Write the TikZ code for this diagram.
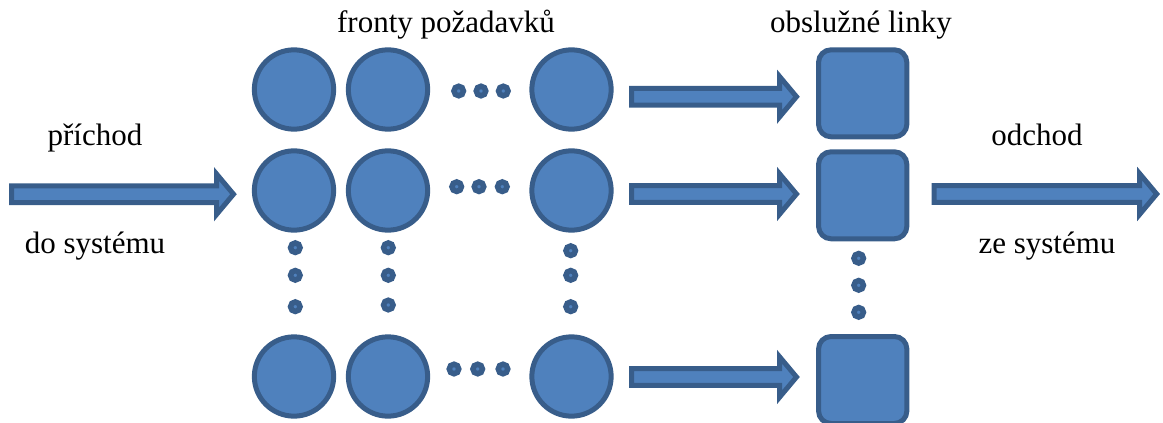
\documentclass[tikz,border=0pt]{standalone}
\usepackage{fontspec}
\setmainfont{Liberation Serif}
\usetikzlibrary{calc}
\definecolor{boxfill}{HTML}{4F81BD}
\definecolor{boxline}{HTML}{385D8A}
\tikzset{
  queue/.style={circle, draw=boxline, fill=boxfill, line width=5pt,
    minimum size=79.3pt, inner sep=0pt},
  server/.style={rectangle, rounded corners=12.5pt, draw=boxline, fill=boxfill,
    line width=5pt, minimum width=88.3pt, minimum height=87pt, inner sep=0pt},
  ellip/.style={circle, draw=boxline, fill=boxfill, line width=5.5pt,
    minimum size=9.5pt, inner sep=0pt},
  fatarrow/.style={draw=boxline, fill=boxfill, line width=5pt, line join=miter, miter limit=10},
  txt/.style={font=\fontsize{31}{37}\selectfont, anchor=base, inner sep=0pt},
}
% block arrow from coordinate #1 (tail) to coordinate #2 (tip)
\newcommand\blockarrow[2]{%
  \path[fatarrow] ($(#1)+(0,-8.4)$) -- ($(#2)+(-17,-8.4)$) -- ($(#2)+(-17,-20.3)$)
    -- (#2) -- ($(#2)+(-17,20.3)$) -- ($(#2)+(-17,8.4)$) -- ($(#1)+(0,8.4)$) -- cycle;}
\begin{document}
\begin{tikzpicture}[x=1pt,y=-1pt]
\useasboundingbox (0,0) rectangle (1163,423);

% queues
\node[queue] (q11) at (294,89.5) {};
\node[queue] (q12) at (388,89.5) {};
\node[queue] (q13) at (571.5,89.5) {};
\node[queue] (q21) at (294,190.5) {};
\node[queue] (q22) at (388,190.5) {};
\node[queue] (q23) at (571.5,190.5) {};
\node[queue] (q31) at (294,376.5) {};
\node[queue] (q32) at (388,376.5) {};
\node[queue] (q33) at (571.5,376.5) {};

% horizontal ellipses
\foreach \r/\y/\a/\b/\c in {1/91/458.7/481/503.3, 2/186.7/456.7/479/502.3, 3/369/454/477.7/503}{
  \node[ellip] (h\r a) at (\a,\y) {};
  \node[ellip] (h\r b) at (\b,\y) {};
  \node[ellip] (h\r c) at (\c,\y) {};
}
% vertical ellipses
\foreach \k/\x/\a/\b/\c in {1/295.3/247.7/275.3/306.7, 2/388.3/247.7/275.3/305, 3/570.7/250.7/275.3/306.7, 4/858.7/258.3/285.3/312.3}{
  \node[ellip] (v\k a) at (\x,\a) {};
  \node[ellip] (v\k b) at (\x,\b) {};
  \node[ellip] (v\k c) at (\x,\c) {};
}

% service lines
\node[server] (s1) at (862.7,93.3) {};
\node[server] (s2) at (862.7,195.3) {};
\node[server] (s3) at (862.7,380) {};

% arrow end points
\coordinate (inA) at (11.5,194.2);
\coordinate (inB) at (233.5,194.2);
\coordinate (m1A) at (631.5,96.7);
\coordinate (m1B) at (796.5,96.7);
\coordinate (m2A) at (631.5,194);
\coordinate (m2B) at (796.5,194);
\coordinate (m3A) at (631.5,377);
\coordinate (m3B) at (796.5,377);
\coordinate (outA) at (934.2,194);
\coordinate (outB) at (1156.7,194);

\blockarrow{inA}{inB}
\blockarrow{m1A}{m1B}
\blockarrow{m2A}{m2B}
\blockarrow{m3A}{m3B}
\blockarrow{outA}{outB}

% captions
\node[txt] (t1) at (446,32) {fronty požadavků};
\node[txt] (t2) at (861,32) {obslužné linky};
\node[txt] (t3) at (95,145) {příchod};
\node[txt] (t4) at (95,253) {do systému};
\node[txt] (t5) at (1037,145) {odchod};
\node[txt] (t6) at (1047,253) {ze systému};
\end{tikzpicture}
\end{document}
